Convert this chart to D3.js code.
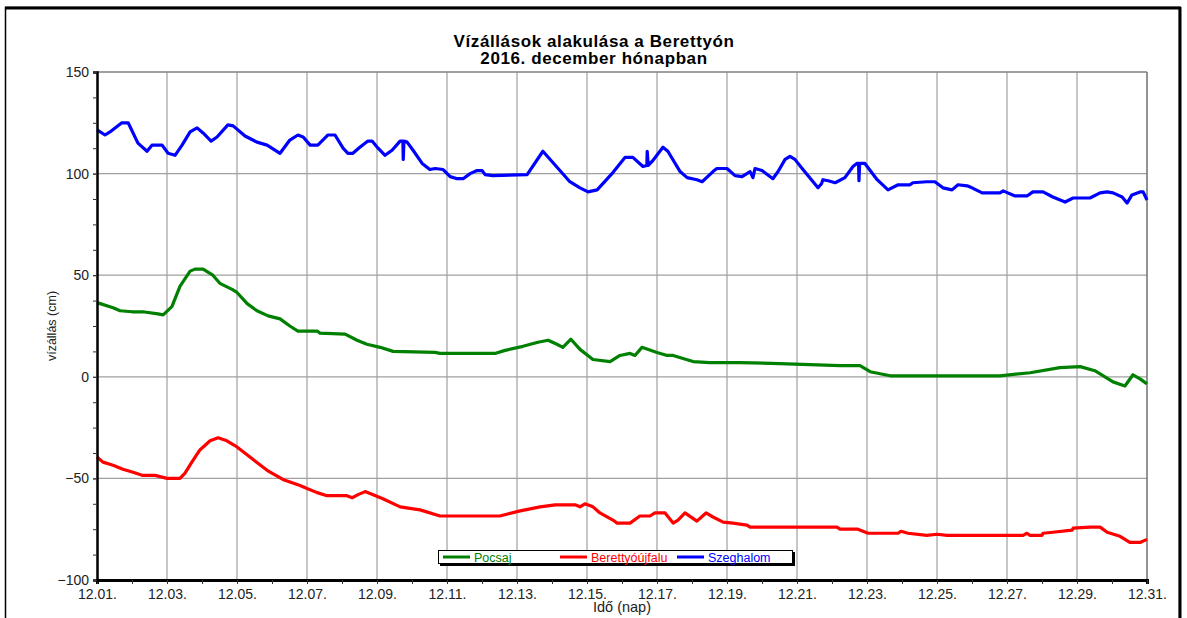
<!DOCTYPE html>
<html>
<head>
<meta charset="utf-8">
<script src="https://cdn.jsdelivr.net/npm/d3@7"></script>
<style>
  body { margin: 0; background: #fff; }
  svg { display: block; font-family: "Liberation Sans", Arial, sans-serif; }
</style>
</head>
<body>
<svg width="1187" height="618"></svg>
<script>
'use strict';

// day of December (1 = 12.01.), water level (cm)
const pocsaj = [
    [1.00, 36.5], [1.46, 34], [1.66, 32.5], [2.00, 32], [2.31, 32], [2.74, 31], [2.89, 30.5],
    [3.14, 34.5], [3.37, 44.5], [3.66, 52], [3.80, 53], [4.03, 53], [4.31, 50], [4.51, 46],
    [4.86, 43], [5.00, 41.5], [5.29, 36], [5.57, 32.5], [5.89, 30], [6.23, 28.5], [6.51, 25],
    [6.74, 22.5], [7.29, 22.5], [7.37, 21.5], [8.09, 21], [8.43, 18], [8.71, 16], [9.09, 14.5],
    [9.46, 12.5], [10.66, 12], [10.80, 11.5], [12.37, 11.5], [12.66, 13], [13.17, 15], [13.60, 17],
    [13.89, 18], [14.14, 16], [14.31, 14.5], [14.54, 18.5], [14.80, 13.5], [15.17, 8.5], [15.66, 7.5],
    [15.94, 10.5], [16.23, 11.5], [16.37, 10.5], [16.57, 14.5], [17.00, 12], [17.29, 10.5],
    [17.46, 10.5], [18.03, 7.5], [18.51, 7], [19.37, 7], [20.51, 6.5], [22.23, 5.5], [22.80, 5.5],
    [23.09, 2.5], [23.66, 0.5], [26.80, 0.5], [27.66, 2], [28.51, 4.5], [29.09, 5], [29.51, 3],
    [30.03, -2.5], [30.37, -4.5], [30.60, 1], [30.80, -1], [31.00, -3.5]
];

const berettyoujfalu = [
    [1.00, -39.5], [1.17, -42], [1.46, -43.5], [1.74, -45.5], [2.03, -47], [2.29, -48.5],
    [2.66, -48.5], [3.00, -50], [3.37, -50], [3.51, -47.5], [3.71, -42], [3.94, -36], [4.23, -31.5],
    [4.46, -30], [4.71, -31.5], [5.00, -34.5], [5.37, -39.5], [5.86, -46], [6.31, -50.5],
    [6.80, -53.5], [7.00, -55], [7.29, -57], [7.57, -58.5], [8.14, -58.5], [8.29, -59.5],
    [8.46, -58], [8.66, -56.5], [8.89, -58], [9.17, -60], [9.66, -64], [10.23, -65.5],
    [10.80, -68.5], [12.51, -68.5], [13.09, -66], [13.66, -64], [14.09, -63], [14.66, -63],
    [14.80, -64], [14.94, -62.5], [15.17, -64], [15.37, -67], [15.74, -70.5], [15.86, -72],
    [16.23, -72], [16.51, -68.5], [16.80, -68.5], [16.94, -67], [17.23, -67], [17.46, -72],
    [17.60, -70.5], [17.80, -67], [18.14, -71], [18.40, -67], [18.60, -69], [18.89, -71.5],
    [19.17, -72], [19.57, -73], [19.66, -74], [22.14, -74], [22.23, -75], [22.74, -75],
    [23.03, -77], [23.89, -77], [23.97, -76], [24.17, -77], [24.71, -78], [25.00, -77.5],
    [25.29, -78], [27.46, -78], [27.57, -77], [27.66, -78], [28.00, -78], [28.03, -77],
    [28.31, -76.5], [28.86, -75.5], [28.89, -74.5], [29.37, -74], [29.66, -74], [29.86, -76.5],
    [30.23, -78.5], [30.51, -81.5], [30.80, -81.5], [31.00, -80]
];

const szeghalom = [
    [1.00, 121.5], [1.23, 119], [1.37, 120.5], [1.71, 125], [1.89, 125], [2.17, 115], [2.43, 111],
    [2.57, 114], [2.86, 114], [3.03, 110], [3.23, 109], [3.43, 114], [3.66, 120.5], [3.86, 122.5],
    [4.03, 120], [4.26, 116], [4.43, 118], [4.74, 124], [4.89, 123.5], [5.23, 118.5], [5.57, 115.5],
    [5.86, 114], [6.23, 110], [6.51, 116.5], [6.74, 119], [6.89, 118], [7.09, 114], [7.31, 114],
    [7.60, 119], [7.80, 119], [8.03, 112.5], [8.17, 110], [8.31, 110], [8.51, 113], [8.74, 116],
    [8.86, 116], [9.03, 112.5], [9.23, 109], [9.43, 111.5], [9.66, 116], [9.74, 116], [9.75, 107],
    [9.77, 116], [9.86, 115.5], [10.03, 111.5], [10.29, 105], [10.51, 102], [10.66, 102.5],
    [10.89, 102], [11.09, 98.5], [11.29, 97.5], [11.46, 97.5], [11.66, 100], [11.86, 101.5],
    [12.00, 101.5], [12.09, 99.5], [12.31, 99], [13.29, 99.5], [13.74, 111], [14.51, 96],
    [14.80, 93], [15.03, 91], [15.29, 92], [15.74, 100.5], [16.09, 108], [16.31, 108], [16.60, 103.5],
    [16.71, 104], [16.72, 111], [16.75, 104], [16.86, 106], [17.17, 113], [17.31, 111], [17.66, 101],
    [17.86, 98], [18.14, 97], [18.29, 96], [18.60, 101], [18.71, 102.5], [19.00, 102.5], [19.23, 99],
    [19.43, 98.5], [19.66, 101], [19.74, 98], [19.80, 102.5], [20.00, 101.5], [20.31, 97.5],
    [20.46, 101], [20.66, 107], [20.80, 108.5], [20.94, 107], [21.17, 102], [21.60, 93], [21.70, 95],
    [21.74, 97], [21.89, 96.5], [22.09, 95.5], [22.37, 98], [22.60, 103.5], [22.71, 105], [22.76, 105],
    [22.77, 96.5], [22.79, 105], [22.94, 105], [23.29, 97], [23.60, 92], [23.89, 94.5], [24.23, 94.5],
    [24.31, 95.5], [24.71, 96], [24.94, 96], [25.17, 93], [25.43, 92], [25.60, 94.5], [25.86, 94],
    [26.00, 93], [26.29, 90.5], [26.80, 90.5], [26.89, 91.5], [27.23, 89], [27.57, 89], [27.74, 91],
    [28.03, 91], [28.31, 88.5], [28.66, 86], [28.89, 88], [29.37, 88], [29.66, 90.5], [29.86, 91],
    [30.03, 90.5], [30.29, 88.5], [30.43, 85.5], [30.57, 89.5], [30.80, 91], [30.89, 91], [31.00, 87]
];

const seriesNames = ["Pocsaj", "Berettyóújfalu", "Szeghalom"];
const seriesColors = ["#008000", "#ff0000", "#0000ff"];
const seriesData = [pocsaj, berettyoujfalu, szeghalom];

const xMajorTicks = d3.range(1, 32, 2);
const xMinorTicks = d3.range(1, 32, 1);
const yMajorTicks = [-100, -50, 0, 50, 100, 150];
const yMinorTicks = d3.range(-100, 150.1, 12.5);

const titleLines = ["Vízállások alakulása a Berettyón", "2016. december hónapban"];

const svg = d3.select("svg");
const plotLeft = 97, plotRight = 1147, plotTop = 72, plotBottom = 580;

const x = d3.scaleLinear().domain([1, 31]).range([plotLeft, plotRight]);
const y = d3.scaleLinear().domain([-100, 150]).range([plotBottom, plotTop]);

// outer frame
svg.append("rect")
    .attr("x", 5.5).attr("y", 7.5)
    .attr("width", 1174).attr("height", 640)
    .attr("fill", "none").attr("stroke", "#000").attr("stroke-width", 1.5);
svg.append("line").attr("x1", 5).attr("x2", 1181).attr("y1", 8).attr("y2", 8)
    .attr("stroke", "#000").attr("stroke-width", 3);
svg.append("line").attr("x1", 1180).attr("x2", 1180).attr("y1", 7).attr("y2", 618)
    .attr("stroke", "#000").attr("stroke-width", 3);

// title
svg.append("text")
    .attr("x", 594).attr("y", 47)
    .attr("text-anchor", "middle")
    .style("font-size", "17px").style("font-weight", "bold")
    .style("letter-spacing", "0.6px")
    .selectAll("tspan")
    .data(titleLines)
    .enter()
    .append("tspan")
    .attr("x", 594)
    .attr("dy", function (d, i) { return i === 0 ? 0 : 17; })
    .text(function (d) { return d; });

// grid
svg.append("g")
    .selectAll("line")
    .data(xMajorTicks.slice(1, -1))
    .enter()
    .append("line")
    .attr("x1", function (d) { return x(d); }).attr("x2", function (d) { return x(d); })
    .attr("y1", plotTop).attr("y2", plotBottom)
    .attr("stroke", "#a0a0a0").attr("stroke-width", 1.2);

svg.append("g")
    .selectAll("line")
    .data(yMajorTicks.slice(1, -1))
    .enter()
    .append("line")
    .attr("x1", plotLeft).attr("x2", plotRight)
    .attr("y1", function (d) { return y(d); }).attr("y2", function (d) { return y(d); })
    .attr("stroke", "#a0a0a0").attr("stroke-width", 1.2);

// top and right border of the plot
svg.append("line").attr("x1", plotLeft).attr("x2", plotRight).attr("y1", plotTop).attr("y2", plotTop)
    .attr("stroke", "#808080").attr("stroke-width", 1.5);
svg.append("line").attr("x1", plotRight).attr("x2", plotRight).attr("y1", plotTop).attr("y2", plotBottom)
    .attr("stroke", "#707070").attr("stroke-width", 1.5);

// series
var line = d3.line()
    .x(function (d) { return x(d[0]); })
    .y(function (d) { return y(d[1]); });

svg.append("g")
    .selectAll("path")
    .data(seriesData)
    .enter()
    .append("path")
    .attr("d", line)
    .attr("fill", "none")
    .attr("stroke", function (d, i) { return seriesColors[i]; })
    .attr("stroke-width", 3.2)
    .attr("stroke-linejoin", "round");

// axes
function pad(n) { return n < 10 ? "0" + n : "" + n; }

var xAxis = svg.append("g")
    .attr("transform", "translate(0," + plotBottom + ")")
    .call(d3.axisBottom(x).tickValues(xMajorTicks).tickSize(4)
        .tickFormat(function (d) { return "12." + pad(d) + "."; }));
svg.append("g")
    .attr("transform", "translate(0," + plotBottom + ")")
    .call(d3.axisBottom(x).tickValues(xMinorTicks).tickSize(4).tickFormat(""))
    .select(".domain").remove();

var yAxis = svg.append("g")
    .attr("transform", "translate(" + plotLeft + ",0)")
    .call(d3.axisLeft(y).tickValues(yMajorTicks).tickSize(4));
svg.append("g")
    .attr("transform", "translate(" + plotLeft + ",0)")
    .call(d3.axisLeft(y).tickValues(yMinorTicks).tickSize(4).tickFormat(""))
    .select(".domain").remove();

svg.selectAll(".tick line").attr("stroke", "#333");
xAxis.select(".domain").attr("stroke", "#000").attr("stroke-width", 3);
yAxis.select(".domain").attr("stroke", "#000").attr("stroke-width", 2.5);
xAxis.selectAll("text").style("font-size", "14px").attr("fill", "#222").attr("dy", "0.85em");
yAxis.selectAll("text").style("font-size", "14px").attr("fill", "#222").attr("dx", "-1px");

svg.append("text")
    .attr("x", (plotLeft + plotRight) / 2).attr("y", 612)
    .attr("text-anchor", "middle")
    .style("font-size", "14.5px").attr("fill", "#222")
    .text("Idő (nap)");

svg.append("text")
    .attr("transform", "translate(56," + y(25) + ") rotate(-90)")
    .attr("text-anchor", "middle")
    .style("font-size", "12.5px").attr("fill", "#222")
    .text("vízállás (cm)");

// legend
var legend = svg.append("g").attr("transform", "translate(438,550)");
legend.append("rect").attr("x", 2).attr("y", 2).attr("width", 355).attr("height", 14).attr("fill", "#000");
legend.append("rect").attr("x", 0.5).attr("y", 0.5).attr("width", 354).attr("height", 13)
    .attr("fill", "#fff").attr("stroke", "#000").attr("stroke-width", 1);
var items = legend.selectAll(".item")
    .data(seriesNames)
    .enter()
    .append("g")
    .attr("class", "item")
    .attr("transform", function (d, i) { return "translate(" + [5, 122, 239][i] + ",7)"; });
items.append("line")
    .attr("x1", 0).attr("x2", 27)
    .attr("stroke", function (d, i) { return seriesColors[i]; })
    .attr("stroke-width", 3);
items.append("text")
    .attr("x", 31).attr("y", 4.5)
    .style("font-size", "12.5px")
    .attr("fill", function (d, i) { return seriesColors[i]; })
    .text(function (d) { return d; });
</script>
</body>
</html>
